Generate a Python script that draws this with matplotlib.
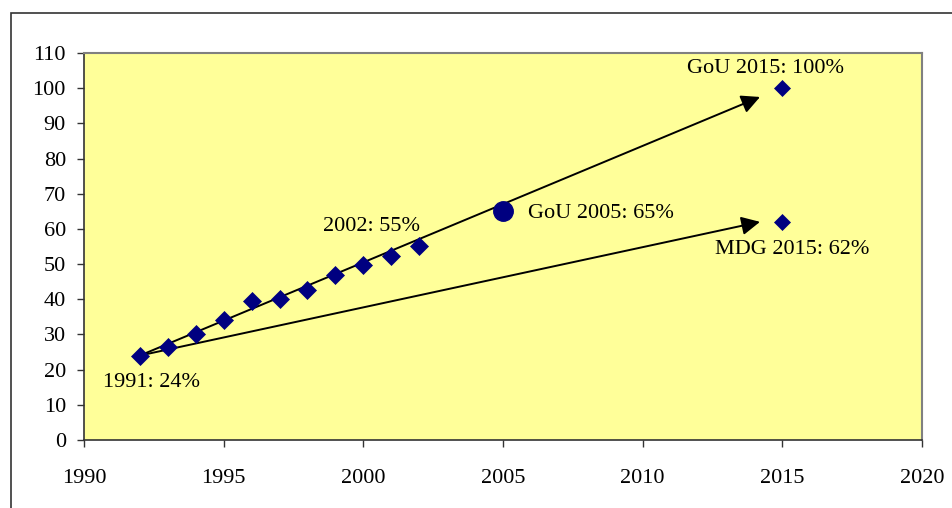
import matplotlib.pyplot as plt
from matplotlib.patches import Rectangle

plt.rcParams['font.family'] = ['Liberation Serif', 'DejaVu Serif']

# enrolment trend, 1992-2002
years = [1992, 1993, 1994, 1995, 1996, 1997, 1998, 1999, 2000, 2001, 2002]
rate = [24, 26.5, 30, 34, 39.5, 40, 42.6, 46.8, 49.6, 52.2, 55]

# targets
target_years = [2015, 2015]
target_rate = [100, 62]
gou_2005_year = 2005
gou_2005_rate = 65

# arrow end points (start at first observation)
arrow_gou_end = (2014.2, 97.5)
arrow_mdg_end = (2014.2, 62)

fig = plt.figure(figsize=(9.53, 5.08), dpi=100)
ax = fig.add_axes([0.0881, 0.1339, 0.8794, 0.7618])
ax.set_facecolor('#FFFF99')

# outer frame around the chart
fig.patches.append(Rectangle((11 / 953, -0.1), 1.2, 1 - 13 / 508 + 0.1,
                             transform=fig.transFigure, fill=False,
                             edgecolor='#333333', lw=1.2, clip_on=False))

navy = '#000080'
ax.plot(years, rate, 'D', color=navy, markersize=9, markeredgewidth=0.5, zorder=3)
ax.plot(target_years, target_rate, 'D', color=navy, markersize=8.5, markeredgewidth=0.5, zorder=3)
ax.plot(gou_2005_year, gou_2005_rate, 'o', color=navy, markersize=14, zorder=3)

for end in (arrow_gou_end, arrow_mdg_end):
    ax.annotate('', xy=end, xytext=(years[0], rate[0]),
                arrowprops=dict(arrowstyle='-|>', mutation_scale=28, lw=1.4,
                                color='black', shrinkA=0, shrinkB=0), zorder=2)

fs = 16
ax.text(2014.4, 105.7, 'GoU 2015: 100%', ha='center', va='center', fontsize=fs)
ax.text(2005.9, 64.5, 'GoU 2005: 65%', ha='left', va='center', fontsize=fs)
ax.text(2015.37, 54.0, 'MDG 2015: 62%', ha='center', va='center', fontsize=fs)
ax.text(2000.3, 60.8, '2002: 55%', ha='center', va='center', fontsize=fs)
ax.text(1992.42, 16.2, '1991: 24%', ha='center', va='center', fontsize=fs)

ax.set_xlim(1990, 2020)
ax.set_ylim(0, 110)
ax.set_xticks(range(1990, 2021, 5))
ax.set_yticks(range(0, 111, 10))
ax.tick_params(direction='out', length=5, width=1, color='#333333',
               labelsize=fs, pad=8)
ax.tick_params(axis='x', pad=16)

for side in ('top', 'right'):
    ax.spines[side].set_color('#808080')
    ax.spines[side].set_linewidth(1.5)
for side in ('left', 'bottom'):
    ax.spines[side].set_color('#333333')
    ax.spines[side].set_linewidth(1.2)

fig.savefig('out.png', dpi=100)
